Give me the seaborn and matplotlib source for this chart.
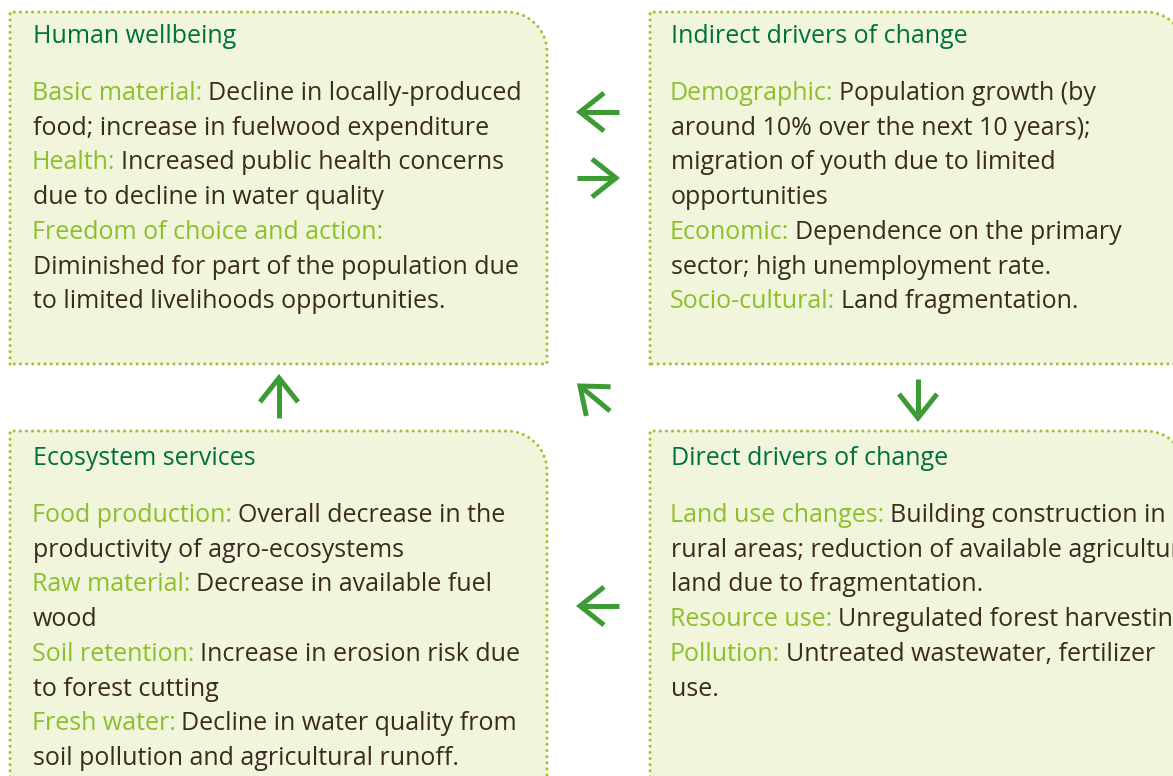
import numpy as np
import matplotlib.pyplot as plt
import seaborn as sns
from matplotlib.path import Path
from matplotlib.patches import PathPatch

sns.set_theme(style="white")
plt.rcParams['font.family'] = ['Open Sans', 'DejaVu Sans']

TITLE_COLOR = '#00703c'
LABEL_COLOR = '#8dbf2a'
BODY_COLOR = '#3b2b1f'
BORDER_COLOR = '#9cc42e'
FILL_COLOR = '#f0f5dc'
ARROW_COLOR = '#3d9b35'

# panel titles
titles = ['Human wellbeing', 'Indirect drivers of change',
          'Ecosystem services', 'Direct drivers of change']

# each line: (green label, body text)
human_lines = [
    ('Basic material:', 'Decline in locally-produced'),
    ('', 'food; increase in fuelwood expenditure'),
    ('Health:', 'Increased public health concerns'),
    ('', 'due to decline in water quality'),
    ('Freedom of choice and action:', ''),
    ('', 'Diminished for part of the population due'),
    ('', 'to limited livelihoods opportunities.'),
]
indirect_lines = [
    ('Demographic:', 'Population growth (by'),
    ('', 'around 10% over the next 10 years);'),
    ('', 'migration of youth due to limited'),
    ('', 'opportunities'),
    ('Economic:', 'Dependence on the primary'),
    ('', 'sector; high unemployment rate.'),
    ('Socio-cultural:', 'Land fragmentation.'),
]
ecosystem_lines = [
    ('Food production:', 'Overall decrease in the'),
    ('', 'productivity of agro-ecosystems'),
    ('Raw material:', 'Decrease in available fuel'),
    ('', 'wood'),
    ('Soil retention:', 'Increase in erosion risk due'),
    ('', 'to forest cutting'),
    ('Fresh water:', 'Decline in water quality from'),
    ('', 'soil pollution and agricultural runoff.'),
]
direct_lines = [
    ('Land use changes:', 'Building construction in'),
    ('', 'rural areas; reduction of available agricultural'),
    ('', 'land due to fragmentation.'),
    ('Resource use:', 'Unregulated forest harvesting'),
    ('Pollution:', 'Untreated wastewater, fertilizer'),
    ('', 'use.'),
]
panel_lines = [human_lines, indirect_lines, ecosystem_lines, direct_lines]

# layout in pixel units: box (left, top, right, bottom) and text origin
boxes = [(10, 12, 547, 364), (650, 12, 1186, 364),
         (10, 431, 547, 800), (650, 431, 1186, 800)]
text_origin = [(33, 12), (671, 12), (33, 434), (671, 434)]
corner_r = 40
line_step = 34.7

# arrows: tail -> tip, in pixels
arrows = [((619, 112), (580, 112)), ((577, 178), (616, 178)),
          ((279, 418), (279, 378)), ((610, 411), (580, 386)),
          ((918, 379), (918, 418)), ((619, 606), (580, 606))]
head_len = 24
head_half = 19


def box_path(x0, y0, x1, y1, r):
    k = 0.5523 * r
    verts = [(x0, y1), (x0, y0), (x1 - r, y0),
             (x1 - r + k, y0), (x1, y0 + r - k), (x1, y0 + r),
             (x1, y1), (x0, y1)]
    codes = [Path.MOVETO, Path.LINETO, Path.LINETO,
             Path.CURVE4, Path.CURVE4, Path.CURVE4,
             Path.LINETO, Path.CLOSEPOLY]
    return Path(verts, codes)


fig = plt.figure(figsize=(11.73, 7.76), dpi=100)
ax = fig.add_axes([0, 0, 1, 1])
ax.set_xlim(0, 1173)
ax.set_ylim(776, 0)
ax.axis('off')

for (x0, y0, x1, y1), (tx, ty), title, lines in zip(boxes, text_origin, titles, panel_lines):
    p = box_path(x0, y0, x1, y1, corner_r)
    ax.add_patch(PathPatch(p, facecolor=FILL_COLOR, edgecolor='none'))
    edge = PathPatch(p, facecolor='none', edgecolor=BORDER_COLOR,
                     linewidth=2.2, linestyle=(0, (0.01, 2.0)))
    edge.set_capstyle('round')
    ax.add_patch(edge)

    ax.text(tx, ty + 31, title, color=TITLE_COLOR, fontsize=18, va='baseline')
    for i, (label, body) in enumerate(lines):
        y = ty + 88 + i * line_step
        if label:
            t = ax.text(tx - 1.5, y, label, color=LABEL_COLOR, fontsize=18, va='baseline')
            if body:
                ax.annotate(body, xy=(1.0, y), xycoords=(t, 'data'),
                            xytext=(6, 0), textcoords='offset pixels',
                            color=BODY_COLOR, fontsize=18, va='baseline')
        else:
            ax.text(tx, y, body, color=BODY_COLOR, fontsize=18, va='baseline')

for tail, tip in arrows:
    tail = np.array(tail, float)
    tip = np.array(tip, float)
    u = (tip - tail) / np.linalg.norm(tip - tail)
    n = np.array([-u[1], u[0]])
    a1 = tip - head_len * u + head_half * n
    a2 = tip - head_len * u - head_half * n
    ax.plot([tail[0], tip[0]], [tail[1], tip[1]], color=ARROW_COLOR,
            lw=3.6, solid_capstyle='butt')
    ax.plot([a1[0], tip[0], a2[0]], [a1[1], tip[1], a2[1]], color=ARROW_COLOR,
            lw=3.6, solid_capstyle='butt', solid_joinstyle='miter')

plt.savefig('out.png', dpi=100)
